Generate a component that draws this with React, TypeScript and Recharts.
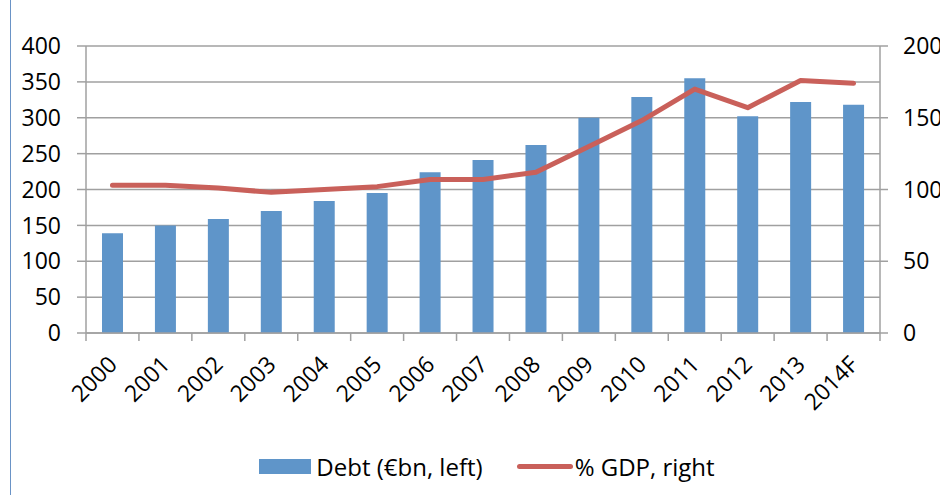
import { ComposedChart, Bar, Line, XAxis, YAxis, CartesianGrid, Legend } from 'recharts'

const years = ['2000', '2001', '2002', '2003', '2004', '2005', '2006', '2007', '2008', '2009', '2010', '2011', '2012', '2013', '2014F']
const debt = [139, 150, 159, 170, 184, 195, 224, 241, 262, 300, 329, 355, 302, 322, 318]
const gdpPct = [103, 103, 101, 98, 100, 102, 107, 107, 112, 130, 148, 170, 157, 176, 174]
const leftTicks = [0, 50, 100, 150, 200, 250, 300, 350, 400]
const rightTicks = [0, 50, 100, 150, 200]

const data = years.map((year, i) => ({ year, debt: debt[i], gdp: gdpPct[i] }))

const FONT = '"Open Sans", "DejaVu Sans", sans-serif'
const BAR_COLOR = '#5f95c9'
const LINE_COLOR = '#c9605a'
const GRID = '#a0a0a0'
const CHART_W = 960
const LEFT_W = 86
const RIGHT_W = 80
const BAND = (CHART_W - LEFT_W - RIGHT_W) / years.length

// Excel-style ticks between categories, labels at 45 degrees
function XTick(props: any) {
  const { x, y, payload, index } = props
  const half = BAND / 2
  const ax = x + 6
  const ay = y + 33
  return (
    <g>
      <line x1={x - half} x2={x - half} y1={y} y2={y + 8} stroke={GRID} strokeWidth={1.5} />
      {index === years.length - 1 && (
        <line x1={x + half} x2={x + half} y1={y} y2={y + 8} stroke={GRID} strokeWidth={1.5} />
      )}
      <text x={ax} y={ay} textAnchor="end" fontSize={23} fontFamily={FONT} fill="#000" transform={`rotate(-45, ${ax}, ${ay})`}>
        {payload.value}
      </text>
    </g>
  )
}

function LegendContent() {
  return (
    <div style={{ display: 'flex', justifyContent: 'center', alignItems: 'center', fontFamily: FONT, fontSize: 24, color: '#000', paddingLeft: 14 }}>
      <div style={{ width: 52, height: 15, background: BAR_COLOR, marginRight: 5 }} />
      <span>Debt (€bn, left)</span>
      <div style={{ width: 56, height: 5, borderRadius: 3, background: LINE_COLOR, marginLeft: 34, marginRight: 2 }} />
      <span>% GDP, right</span>
    </div>
  )
}

export default function App() {
  return (
    <div style={{ position: 'absolute', left: 0, top: 0, width: 940, height: 495, overflow: 'hidden', background: '#fff' }}>
      <div style={{ position: 'absolute', left: 10, top: 0, width: 1, height: 495, background: '#6a93c6' }} />
      <ComposedChart width={CHART_W} height={495} data={data} margin={{ top: 46, right: 0, bottom: 0, left: 0 }} style={{ fontFamily: FONT }}>
        <CartesianGrid vertical={false} stroke={GRID} strokeWidth={1.5} yAxisId="left" />
        <XAxis dataKey="year" height={117} interval={0} tickLine={false} tickSize={0} tickMargin={0} tick={<XTick />} stroke={GRID} strokeWidth={1.5} />
        <YAxis
          yAxisId="left"
          width={LEFT_W}
          domain={[0, 400]}
          ticks={leftTicks}
          tickSize={9}
          tickMargin={16}
          stroke={GRID}
          strokeWidth={1.5}
          tick={{ fontSize: 23, fill: '#000', fontFamily: FONT }}
        />
        <YAxis
          yAxisId="right"
          orientation="right"
          width={RIGHT_W}
          domain={[0, 200]}
          ticks={rightTicks}
          tickSize={8}
          tickMargin={15}
          stroke={GRID}
          strokeWidth={1.5}
          tick={{ fontSize: 23, fill: '#000', fontFamily: FONT }}
        />
        <Legend verticalAlign="bottom" height={45} content={<LegendContent />} />
        <Bar yAxisId="left" dataKey="debt" name="Debt (€bn, left)" fill={BAR_COLOR} barSize={21} isAnimationActive={false} />
        <Line
          yAxisId="right"
          type="linear"
          dataKey="gdp"
          name="% GDP, right"
          stroke={LINE_COLOR}
          strokeWidth={5}
          strokeLinecap="round"
          strokeLinejoin="round"
          dot={false}
          isAnimationActive={false}
        />
      </ComposedChart>
    </div>
  )
}
